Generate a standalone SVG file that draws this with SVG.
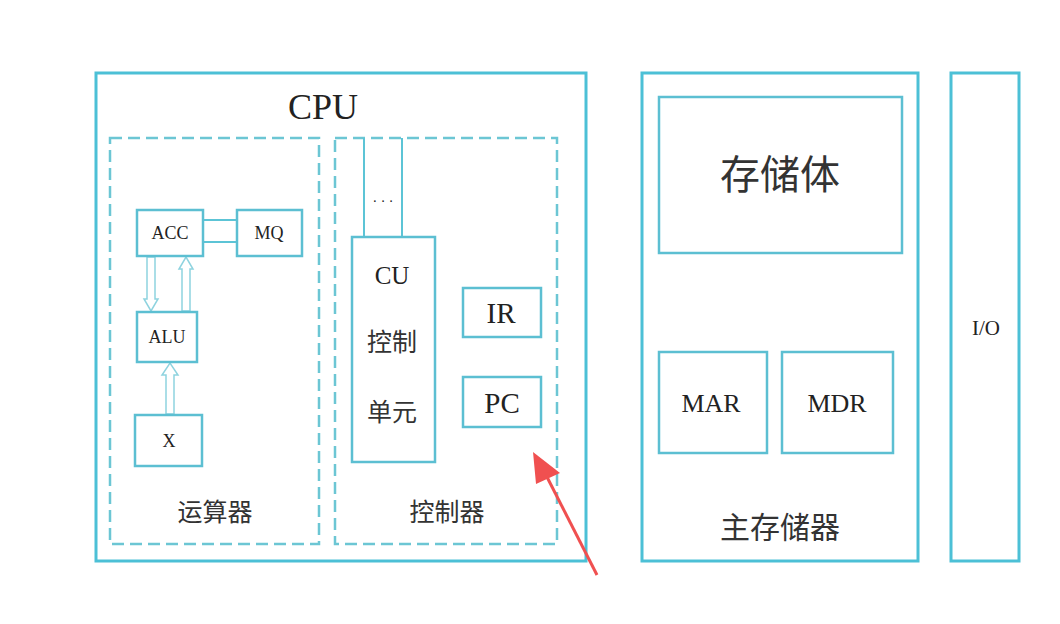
<svg xmlns="http://www.w3.org/2000/svg" width="1060" height="624" viewBox="0 0 1060 624">
<style>
.box{fill:none;stroke:#4cc0d6;stroke-width:3}
.ibox{fill:#fff;stroke:#5cbfd2;stroke-width:2.5}
.dash{fill:none;stroke:#6cc6d4;stroke-width:2.5;stroke-dasharray:12 6}
.ln{fill:none;stroke:#5cc4d6;stroke-width:2}
.ha{fill:#fff;stroke:#8ed3df;stroke-width:1.5}
.t{font-family:"Liberation Serif","Noto Sans CJK SC",serif;fill:#222;text-anchor:middle;dominant-baseline:central}
.c{font-family:"Noto Sans CJK SC","Liberation Serif",serif;fill:#333;text-anchor:middle;dominant-baseline:central}
</style>
<rect width="1060" height="624" fill="#fff"/>
<g id="cpu">
<rect class="box" x="96" y="73" width="490" height="488"/>
<text class="t" x="323" y="107" font-size="36">CPU</text>
</g>
<g id="alu-unit">
<rect class="dash" x="110" y="138" width="209" height="406"/>
<text class="c" x="215" y="510" font-size="25">运算器</text>
</g>
<g id="ctrl-unit">
<rect class="dash" x="335" y="138" width="222" height="406"/>
<text class="c" x="447" y="510" font-size="25">控制器</text>
</g>
<g id="connectors">
<line class="ln" x1="203" y1="220" x2="237" y2="220"/>
<line class="ln" x1="203" y1="242" x2="237" y2="242"/>
<polygon class="ha" points="147,257 147,299 144,299 151,311 158,299 155,299 155,257"/>
<polygon class="ha" points="182,311 182,269 179,269 186,257 193,269 190,269 190,311"/>
<polygon class="ha" points="166,414 166,375 162,375 170,363 178,375 174,375 174,414"/>
<line class="ln" x1="364" y1="138" x2="364" y2="237"/>
<line class="ln" x1="402" y1="138" x2="402" y2="237"/>
<text class="t" x="383" y="201" font-size="14" fill="#999">· · ·</text>
</g>
<g id="acc"><rect class="ibox" x="137" y="210" width="66" height="46"/><text class="t" x="170" y="233" font-size="18">ACC</text></g>
<g id="mq"><rect class="ibox" x="237" y="210" width="65" height="46"/><text class="t" x="269" y="233" font-size="18">MQ</text></g>
<g id="alu"><rect class="ibox" x="137" y="312" width="60" height="50"/><text class="t" x="167" y="337" font-size="18">ALU</text></g>
<g id="x"><rect class="ibox" x="135" y="415" width="67" height="51"/><text class="t" x="169" y="441" font-size="18">X</text></g>
<g id="cu">
<rect class="ibox" x="352" y="237" width="83" height="225"/>
<text class="t" x="392" y="275" font-size="25">CU</text>
<text class="c" x="392" y="340" font-size="25">控制</text>
<text class="c" x="392" y="410" font-size="25">单元</text>
</g>
<g id="ir"><rect class="ibox" x="463" y="288" width="78" height="49"/><text class="t" x="501" y="313" font-size="29">IR</text></g>
<g id="pc"><rect class="ibox" x="463" y="377" width="78" height="50"/><text class="t" x="502" y="403" font-size="29">PC</text></g>
<g id="memory">
<rect class="box" x="642" y="73" width="276" height="488"/>
<text class="c" x="780" y="525" font-size="30">主存储器</text>
</g>
<g id="storage"><rect class="ibox" x="659" y="97" width="243" height="156"/><text class="c" x="780" y="172" font-size="40">存储体</text></g>
<g id="mar"><rect class="ibox" x="659" y="352" width="108" height="101"/><text class="t" x="711" y="403" font-size="26">MAR</text></g>
<g id="mdr"><rect class="ibox" x="782" y="352" width="111" height="101"/><text class="t" x="837" y="403" font-size="26">MDR</text></g>
<g id="io"><rect class="box" x="951" y="73" width="68" height="488"/><text class="t" x="986" y="328" font-size="21">I/O</text></g>
<g id="pointer">
<line x1="597" y1="575" x2="547" y2="477" stroke="#f05050" stroke-width="3"/>
<polygon points="533,452 560,473 536,484" fill="#f05050"/>
</g>
</svg>
